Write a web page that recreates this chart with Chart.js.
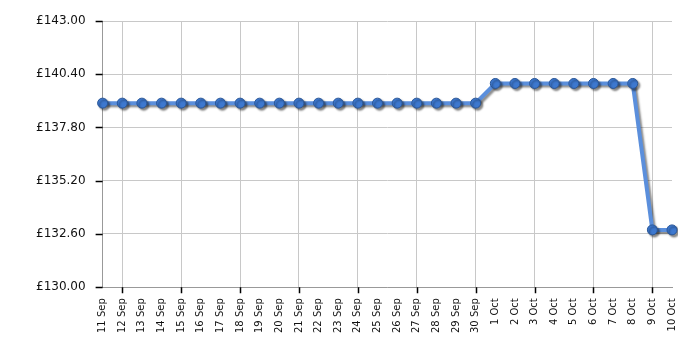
<!DOCTYPE html>
<html>
<head>
<meta charset="utf-8">
<script src="https://cdn.jsdelivr.net/npm/chart.js@4/dist/chart.umd.min.js"></script>
<style>
  html, body { margin: 0; padding: 0; background: #fff; }
  #wrap { width: 700px; height: 350px; }
</style>
</head>
<body>
<div id="wrap"><canvas id="priceChart"></canvas></div>
<script>
const dates = ['11 Sep', '12 Sep', '13 Sep', '14 Sep', '15 Sep', '16 Sep', '17 Sep', '18 Sep', '19 Sep', '20 Sep',
    '21 Sep', '22 Sep', '23 Sep', '24 Sep', '25 Sep', '26 Sep', '27 Sep', '28 Sep', '29 Sep', '30 Sep',
    '1 Oct', '2 Oct', '3 Oct', '4 Oct', '5 Oct', '6 Oct', '7 Oct', '8 Oct', '9 Oct', '10 Oct'];
const prices = [138.99, 138.99, 138.99, 138.99, 138.99, 138.99, 138.99, 138.99, 138.99, 138.99,
    138.99, 138.99, 138.99, 138.99, 138.99, 138.99, 138.99, 138.99, 138.99, 138.99,
    139.95, 139.95, 139.95, 139.95, 139.95, 139.95, 139.95, 139.95, 132.80, 132.80];
const yMin = 130;
const yMax = 143;
const yStep = 2.6;

// grey drop shadow under the line and points
const shadowPlugin = {
    id: 'shadow',
    beforeDatasetsDraw(chart) {
        const ctx = chart.ctx;
        ctx.save();
        ctx.shadowColor = 'rgba(0,0,0,0.45)';
        ctx.shadowBlur = 2;
        ctx.shadowOffsetX = 2;
        ctx.shadowOffsetY = 2;
    },
    afterDatasetsDraw(chart) {
        chart.ctx.restore();
    }
};

// short black tick marks outside the axes
const tickMarks = {
    id: 'tickMarks',
    afterDraw(chart) {
        const ctx = chart.ctx;
        const x = chart.scales.x;
        const y = chart.scales.y;
        const area = chart.chartArea;
        ctx.save();
        ctx.strokeStyle = '#000';
        ctx.lineWidth = 1.5;
        ctx.beginPath();
        y.ticks.forEach((t, i) => {
            const py = Math.round(y.getPixelForTick(i)) + 0.5;
            ctx.moveTo(area.left - 7, py);
            ctx.lineTo(area.left, py);
        });
        x.ticks.forEach((t, i) => {
            if (i % 3 !== 1) return;
            const px = Math.round(x.getPixelForTick(i)) + 0.5;
            ctx.moveTo(px, area.bottom);
            ctx.lineTo(px, area.bottom + 6);
        });
        ctx.stroke();
        ctx.restore();
    }
};

const everyThird = (ctx, on, off) => (ctx.index % 3 === 1 ? on : off);

new Chart(document.getElementById('priceChart'), {
    type: 'line',
    data: {
        labels: dates,
        datasets: [{
            data: prices,
            borderColor: '#5b8fdc',
            borderWidth: 4,
            tension: 0,
            pointRadius: 5,
            pointBackgroundColor: '#3d78cf',
            pointBorderColor: '#2b5797',
            pointBorderWidth: 1
        }]
    },
    options: {
        responsive: true,
        maintainAspectRatio: false,
        animation: false,
        layout: { padding: { top: 21, right: 28, left: 36, bottom: 12 } },
        plugins: {
            legend: { display: false },
            tooltip: { enabled: false }
        },
        scales: {
            x: {
                offset: false,
                grid: {
                    color: (ctx) => everyThird(ctx, '#c8c8c8', 'rgba(0,0,0,0)'),
                    tickColor: 'rgba(0,0,0,0)',
                    tickLength: 6
                },
                border: { color: '#999' },
                ticks: {
                    autoSkip: false,
                    maxRotation: 90,
                    minRotation: 90,
                    color: '#111',
                    font: { family: 'DejaVu Sans', size: 10 },
                    padding: 5
                }
            },
            y: {
                min: yMin,
                max: yMax,
                grid: {
                    color: '#c8c8c8',
                    tickColor: 'rgba(0,0,0,0)',
                    tickLength: 7
                },
                border: { color: '#999' },
                ticks: {
                    stepSize: yStep,
                    color: '#111',
                    crossAlign: 'far',
                    font: { family: 'DejaVu Sans', size: 12 },
                    padding: 5,
                    callback: (v) => '£' + Number(v).toFixed(2)
                }
            }
        }
    },
    plugins: [shadowPlugin, tickMarks]
});
</script>
</body>
</html>
